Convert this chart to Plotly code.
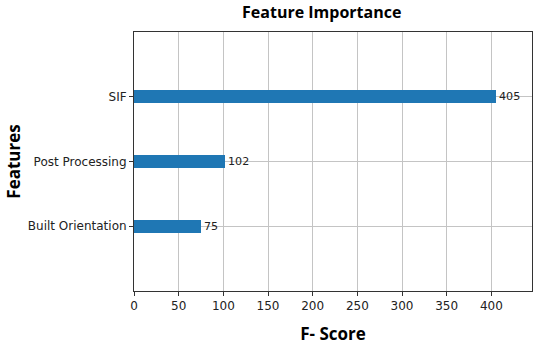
import plotly.graph_objects as go

features = ["Built Orientation", "Post Processing", "SIF"]
f_scores = [75, 102, 405]
x_ticks = [0, 50, 100, 150, 200, 250, 300, 350, 400]

fig = go.Figure()
fig.add_trace(go.Bar(
    x=f_scores,
    y=[0, 1, 2],
    orientation="h",
    width=0.2,
    marker=dict(color="#1f77b4", line=dict(width=0)),
    text=[str(v) for v in f_scores],
    textposition="outside",
    textfont=dict(family="DejaVu Sans", size=12, color="#222"),
    cliponaxis=False,
))

fig.update_layout(
    width=550, height=345,
    margin=dict(l=134, r=18, t=32, b=54),
    paper_bgcolor="white", plot_bgcolor="white",
    showlegend=False,
    bargap=0,
    title=dict(text="<b>Feature Importance</b>", x=0.585, xanchor="center",
               y=1 - 12 / 345, yanchor="middle",
               font=dict(family="Open Sans", size=16, color="black")),
    font=dict(family="DejaVu Sans", size=12, color="#222"),
)

fig.update_xaxes(
    range=[0, 445.5],
    tickvals=x_ticks,
    ticktext=[str(t) for t in x_ticks],
    ticks="outside", ticklen=4, tickcolor="#333",
    showgrid=True, gridcolor="#c4c4c4", gridwidth=1,
    showline=True, linecolor="#333", linewidth=1, mirror=True,
    zeroline=False, automargin=False,
    title=dict(text="<b>F- Score</b>", font=dict(family="Open Sans", size=17, color="black"), standoff=15),
)
fig.update_yaxes(
    range=[-1, 3],
    tickvals=[0, 1, 2],
    ticktext=features,
    ticks="outside", ticklen=4, tickcolor="#333",
    showgrid=True, gridcolor="#c4c4c4", gridwidth=1,
    showline=True, linecolor="#333", linewidth=1, mirror=True,
    zeroline=False, automargin=False,
    title=dict(text="<b>Features</b>", font=dict(family="Open Sans", size=17, color="black"), standoff=2),
)

fig.write_html("out.html", config={"displayModeBar": False},
               post_script="document.body.style.margin='0';")
